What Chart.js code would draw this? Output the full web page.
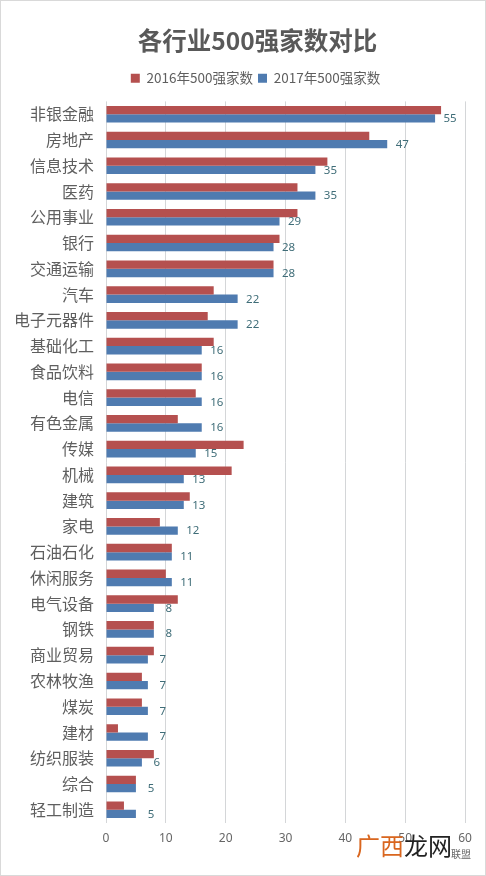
<!DOCTYPE html>
<html lang="zh"><head><meta charset="utf-8">
<style>
html,body{margin:0;padding:0;background:#fff;width:486px;height:876px;overflow:hidden}
#wrap{position:relative;width:486px;height:876px}
canvas{position:absolute;left:0;top:0}
#frame{position:absolute;left:0;top:0;width:484px;height:874px;border:1px solid #d9d9d9;pointer-events:none}
.wm{position:absolute;font-family:"Noto Sans CJK SC";line-height:1;white-space:nowrap}
</style>
<script src="https://cdn.jsdelivr.net/npm/chart.js@4/dist/chart.umd.min.js"></script>
</head><body>
<div id="wrap">
<canvas id="c" width="486" height="876"></canvas>
<div id="frame"></div>
<div class="wm" style="left:451px;top:849px;font-size:10px;color:#666">联盟</div>
<div class="wm" style="left:356px;top:833px;font-size:24px"><span style="color:#d9661f">广西</span><span style="color:#222">龙网</span></div>
</div>
<script>
const categories = ["非银金融","房地产","信息技术","医药","公用事业","银行","交通运输","汽车","电子元器件","基础化工","食品饮料","电信","有色金属","传媒","机械","建筑","家电","石油石化","休闲服务","电气设备","钢铁","商业贸易","农林牧渔","煤炭","建材","纺织服装","综合","轻工制造"];
const values2016 = [56,44,37,32,32,29,28,18,17,18,16,15,12,23,21,14,9,11,10,12,8,8,6,6,2,8,5,3];
const values2017 = [55,47,35,35,29,28,28,22,22,16,16,16,16,15,13,13,12,11,11,8,8,7,7,7,7,6,5,5];
const xTicks = [0,10,20,30,40,50,60];
const titleText = "各行业500强家数对比";
const seriesNames = ["2016年500强家数","2017年500强家数"];
const FONT = '"Noto Sans CJK SC","Noto Sans",sans-serif';

const endLabels = {
  id:'endLabels',
  afterDatasetsDraw(chart){
    const ctx = chart.ctx, meta = chart.getDatasetMeta(1);
    ctx.save();
    ctx.font = '11.5px "Noto Sans",'+FONT;
    ctx.fillStyle = '#3f6d78';
    ctx.textAlign = 'center';
    ctx.textBaseline = 'middle';
    meta.data.forEach((bar,i)=>{
      ctx.fillText(String(values2017[i]), bar.x + 15, bar.y + 0.5);
    });
    ctx.restore();
  }
};
const centerHeader = {
  id:'centerHeader',
  afterLayout(chart){
    chart.titleBlock.left += 25; chart.titleBlock.right += 25;
    chart.legend.left += 23; chart.legend.right += 23;
  }
};

new Chart(document.getElementById('c'),{
  type:'bar',
  data:{labels:categories,datasets:[
    {label:seriesNames[0],data:values2016,backgroundColor:'#b5504f',categoryPercentage:0.645,barPercentage:1,xAxisID:'x'},
    {label:seriesNames[1],data:values2017,backgroundColor:'#4f7bb0',categoryPercentage:0.645,barPercentage:1,xAxisID:'x'}
  ]},
  options:{
    indexAxis:'y',responsive:false,animation:false,devicePixelRatio:1,
    layout:{padding:{left:0,right:21,top:0,bottom:21}},
    plugins:{
      title:{display:true,text:titleText,color:'#595959',
        font:{family:FONT,size:24.5,weight:'bold'},padding:{top:26,bottom:11}},
      legend:{display:true,position:'top',
        labels:{boxWidth:9,boxHeight:9,color:'#5f5f5f',padding:5,font:{family:FONT,size:13.5}}},
      tooltip:{enabled:false}
    },
    scales:{
      x:{position:'bottom',min:0,max:60,
        afterBuildTicks(a){a.ticks=xTicks.map(v=>({value:v}));},
        grid:{color:'#d4d6d8',lineWidth:1,drawTicks:false},
        border:{display:false},
        ticks:{color:'#666',padding:9,maxRotation:0,font:{family:'"Noto Sans",'+FONT,size:12}}},
      xTop:{axis:'x',type:'linear',position:'top',min:0,max:60,
        afterFit(a){a.height=6.5;},
        grid:{display:false,drawTicks:false},
        border:{display:false},
        ticks:{display:false}},
      y:{
        afterFit(a){a.width=106;},
        grid:{display:false,drawTicks:false},
        border:{display:false},
        ticks:{color:'#5f5f5f',padding:12,autoSkip:false,font:{family:FONT,size:16}}}
    }
  },
  plugins:[endLabels,centerHeader]
});
</script>
</body></html>
